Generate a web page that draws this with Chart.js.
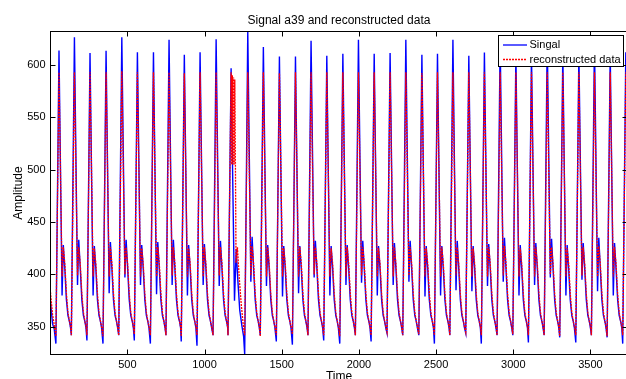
<!DOCTYPE html>
<html>
<head>
<meta charset="utf-8">
<script src="https://cdn.jsdelivr.net/npm/chart.js"></script>
<style>
  html, body { margin: 0; padding: 0; background: #fff; overflow: hidden; }
  #wrap { width: 640px; height: 392px; }
</style>
</head>
<body>
<div id="wrap"><canvas id="chart" width="640" height="392"></canvas></div>
<script>
// time of each systolic peak
const peakTimes = [57, 157, 258, 362, 464, 565, 669, 770, 869, 971, 1075, 1172, 1280, 1381, 1485, 1589, 1690, 1792, 1896, 1997, 2099, 2202, 2304, 2408, 2509, 2609, 2712, 2813, 2915, 3017, 3118, 3220, 3321, 3425, 3526, 3628, 3729];

// measured signal (blue)
const blueTrough = [334, 342, 337, 334, 342, 337, 334, 342, 336, 332, 342, 342, 323.6, 342, 336, 333, 342, 337, 334, 342, 336, 344, 342, 342, 334, 342, 344, 334, 342, 342, 335, 342, 340, 335, 342, 340, 334];
const bluePeak = [613.6, 626.4, 611.2, 613.4, 626.4, 612.1, 612, 623.9, 609.5, 612, 624.5, 596.8, 631.8, 616.9, 607.9, 607.9, 622.9, 608.6, 610.5, 623.9, 610.5, 611.2, 623.9, 609.5, 610.5, 623.9, 608.6, 611.7, 624, 611, 610, 625, 611, 612, 624, 611, 612];
const blueNotch = [380, 390, 380, 382, 397, 390, 381, 390, 380, 390, 389, 375, 393, 389, 379, 382, 397, 380, 390, 392, 380, 390, 393, 379, 380, 385, 384, 389, 393, 380, 390, 397, 380, 395, 384, 380, 385];
const blueSecond = [428, 433, 427, 431, 433, 428, 431, 433, 428, 429, 432, 424, 436, 428, 427, 427, 432, 427, 428, 432, 427, 430, 432, 427, 427, 432, 427, 429, 435, 428, 430, 434, 428, 430, 435, 430, 428];

// reconstructed data (red)
const redTrough = [341, 342, 342, 341, 342, 343, 342, 342, 341, 342, 342, 342, 342, 341, 342, 343, 342, 342, 341, 342, 342, 345, 342, 343, 342, 342, 345, 342, 342, 343, 342, 342, 341, 342, 342, 341, 342];
const redPeak = [593, 593, 593, 593, 594, 593, 593, 593, 592, 593, 593, 593, 593, 593, 592, 593, 593, 593, 593, 593, 593, 593, 593, 592, 593, 593, 593, 593, 593, 593, 593, 593, 593, 593, 593, 593, 593];
const redNotch = [398, 399, 398, 398, 400, 398, 398, 399, 398, 398, 399, 411, 399, 398, 398, 398, 400, 398, 398, 399, 398, 398, 399, 398, 398, 399, 398, 398, 399, 398, 398, 400, 398, 399, 398, 398, 398];
const redSecond = [426, 426, 425, 426, 426, 425, 426, 426, 425, 426, 426, 426, 427, 426, 425, 426, 426, 425, 426, 426, 425, 426, 426, 425, 426, 426, 425, 426, 427, 425, 426, 426, 425, 426, 427, 426, 425];

// decay after the second bump (offset from the peak, value)
const tailOffsets = [38, 48, 58, 68, 75];
const blueTail = [405, 376, 361, 355, 349];
const redTail = [410, 382, 364, 355, 350];

// before the first beat
const blueStart = [[2, 374], [15, 353], [26, 348]];
const redStart = [[2, 383], [15, 362], [26, 352]];

// the irregular beat near t = 1172
const oddBeat = 11;
const blueOdd = [[1194, 375], [1205, 424], [1215, 396], [1228, 366], [1242, 351], [1253, 341]];
const redOdd = [[1176, 505], [1180, 590], [1184, 505], [1188, 588], [1192, 505], [1196, 586], [1200, 505], [1204, 411], [1213, 426], [1225, 396], [1238, 371], [1250, 353]];

const xTicks = [500, 1000, 1500, 2000, 2500, 3000, 3500];
const yTicks = [350, 400, 450, 500, 550, 600];
const seriesNames = ['Singal', 'reconstructed data'];

function buildSeries(start, trough, peak, notch, second, tail, odd) {
  const pts = start.map(([x, y]) => ({ x, y }));
  peakTimes.forEach((t, i) => {
    pts.push({ x: t - 20, y: trough[i] });
    pts.push({ x: t, y: peak[i] });
    if (i === oddBeat) {
      odd.forEach(([x, y]) => pts.push({ x, y }));
      return;
    }
    pts.push({ x: t + 20, y: notch[i] });
    pts.push({ x: t + 28, y: second[i] });
    tailOffsets.forEach((o, k) => pts.push({ x: t + o, y: tail[k] }));
  });
  return pts;
}

const blueData = buildSeries(blueStart, blueTrough, bluePeak, blueNotch, blueSecond, blueTail, blueOdd);
const redData = buildSeries(redStart, redTrough, redPeak, redNotch, redSecond, redTail, redOdd);

const FAMILY = '"Liberation Sans", Arial, Helvetica, sans-serif';

const matlabFrame = {
  id: 'matlabFrame',
  afterDraw(chart) {
    const { ctx, chartArea: a, scales: { x, y } } = chart;
    ctx.save();
    ctx.strokeStyle = '#000';
    ctx.lineWidth = 1;
    ctx.strokeRect(a.left, a.top, a.right - a.left, a.bottom - a.top);

    // inward ticks on all four sides
    ctx.beginPath();
    xTicks.forEach((v) => {
      const px = Math.round(x.getPixelForValue(v)) + 0.5;
      ctx.moveTo(px, a.bottom); ctx.lineTo(px, a.bottom - 5);
      ctx.moveTo(px, a.top); ctx.lineTo(px, a.top + 5);
    });
    yTicks.forEach((v) => {
      const py = Math.round(y.getPixelForValue(v)) + 0.5;
      ctx.moveTo(a.left, py); ctx.lineTo(a.left + 5, py);
      ctx.moveTo(a.right, py); ctx.lineTo(a.right - 5, py);
    });
    ctx.stroke();

    // titles
    ctx.fillStyle = '#000';
    ctx.font = '12px ' + FAMILY;
    ctx.textAlign = 'center';
    ctx.textBaseline = 'middle';
    const cx = (a.left + a.right) / 2;
    ctx.fillText('Signal a39 and reconstructed data', cx, 21);
    ctx.fillText('Time', cx, 377);
    ctx.save();
    ctx.translate(19, (a.top + a.bottom) / 2);
    ctx.rotate(-Math.PI / 2);
    ctx.fillText('Amplitude', 0, 0);
    ctx.restore();

    // legend box
    ctx.font = '11px ' + FAMILY;
    ctx.fillStyle = '#fff';
    ctx.fillRect(498.5, 35.5, 125, 31);
    ctx.strokeRect(498.5, 35.5, 125, 31);
    ctx.lineWidth = 1.3;
    ctx.strokeStyle = '#0000ff';
    ctx.beginPath(); ctx.moveTo(503, 45); ctx.lineTo(527, 45); ctx.stroke();
    ctx.lineWidth = 1.3;
    ctx.strokeStyle = '#ff0000';
    ctx.setLineDash([2, 1]);
    ctx.beginPath(); ctx.moveTo(503, 59.5); ctx.lineTo(527, 59.5); ctx.stroke();
    ctx.setLineDash([]);
    ctx.fillStyle = '#000';
    ctx.textAlign = 'left';
    ctx.fillText(seriesNames[0], 529.5, 45);
    ctx.fillText(seriesNames[1], 529.5, 59.5);
    ctx.restore();
  }
};

const tickFont = { family: FAMILY, size: 11 };

new Chart(document.getElementById('chart'), {
  type: 'line',
  data: {
    datasets: [{
      label: seriesNames[0],
      data: blueData,
      borderColor: '#0000ff',
      borderWidth: 1.4,
      pointRadius: 0,
      tension: 0,
      order: 1,
    }, {
      label: seriesNames[1],
      data: redData,
      borderColor: '#ff0000',
      borderWidth: 1.3,
      borderDash: [2, 1],
      pointRadius: 0,
      tension: 0,
      order: 0,
    }],
  },
  options: {
    responsive: false,
    animation: false,
    devicePixelRatio: 1,
    layout: { padding: { top: 31.5, right: 12.5, left: 0, bottom: 0 } },
    plugins: {
      legend: { display: false },
      title: { display: false },
      tooltip: { enabled: false }
    },
    scales: {
      x: {
        type: 'linear',
        min: 2,
        max: 3740,
        grid: { display: false, drawTicks: false },
        border: { display: false },
        afterBuildTicks: (s) => { s.ticks = xTicks.map((v) => ({ value: v })); },
        afterFit: (s) => { s.height = 37.5; },
        ticks: { color: '#000', font: tickFont, padding: 4, maxRotation: 0, callback: (v) => String(v) }
      },
      y: {
        min: 323.6,
        max: 631.8,
        grid: { display: false, drawTicks: false },
        border: { display: false },
        afterBuildTicks: (s) => { s.ticks = yTicks.map((v) => ({ value: v })); },
        afterFit: (s) => { s.width = 50.5; },
        ticks: { color: '#000', font: tickFont, padding: 5, callback: (v) => String(v) }
      }
    }
  },
  plugins: [matlabFrame]
});
</script>
</body>
</html>
